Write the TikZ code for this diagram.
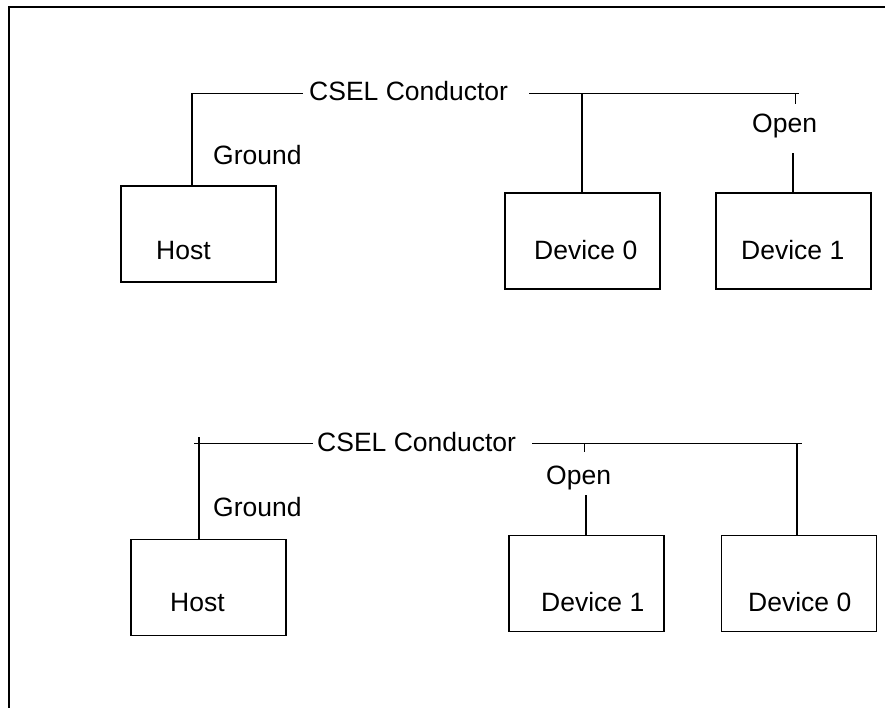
\documentclass[tikz,border=0pt]{standalone}
\usepackage{fontspec}
\setmainfont{Liberation Sans}
\begin{document}
\begin{tikzpicture}[x=1pt,y=-1pt,
  wire/.style={line width=1.3pt, line cap=rect},
  box/.style={draw, line width=1.3pt, minimum width=155pt, minimum height=96pt, inner sep=0pt},
  txt/.style={anchor=base west, inner sep=0pt, font=\fontsize{26.5}{30}\selectfont}]
\useasboundingbox (0,0) rectangle (885,708);
% frame
\coordinate (fa) at (8.5,708);
\coordinate (fb) at (8.5,7.5);
\coordinate (fc) at (885,7.5);
\draw[line width=2pt] (fa) -- (fb) -- (fc);

% ---------- top diagram ----------
\node[box] (hostA) at (198.5,234) {};
\node[box] (devA0) at (582.5,241) {};
\node[box] (devA1) at (793.5,241) {};
\node[txt] (hostAt) at (156,260) {Host};
\node[txt] (devA0t) at (534,259.5) {Device 0};
\node[txt] (devA1t) at (741,259.5) {Device 1};
\node[txt] (condA) at (309,100.5) {CSEL Conductor};
\node[txt] (gndA) at (213,164.3) {Ground};
\node[txt] (openA) at (752,132.7) {Open};
\coordinate (a1) at (192,93.5);
\coordinate (a2) at (302,93.5);
\coordinate (a3) at (530,93.5);
\coordinate (a4) at (582,93.5);
\coordinate (a5) at (798,93.5);
\coordinate (a6) at (795,104);
\coordinate (a7) at (793,154);
\draw[wire] (a1 |- hostA.north) -- (a1) -- (a2);
\draw[wire] (a3) -- (a5);
\draw[wire] (a4) -- (a4 |- devA0.north);
\draw[line width=1pt] (a6 |- a5) -- (a6);
\draw[wire] (a7) -- (a7 |- devA1.north);

% ---------- bottom diagram ----------
\node[box] (hostB) at (208.5,587.5) {};
\node[box] (devB1) at (586.5,583.5) {};
\node[box] (devB0) at (799,583.5) {};
\node[txt] (hostBt) at (170,611.7) {Host};
\node[txt] (devB1t) at (541,611.8) {Device 1};
\node[txt] (devB0t) at (748,611.8) {Device 0};
\node[txt] (condB) at (317,451.7) {CSEL Conductor};
\node[txt] (gndB) at (213,516.7) {Ground};
\node[txt] (openB) at (546,484) {Open};
\coordinate (b0) at (195,443.5);
\coordinate (b1) at (199,437.5);
\coordinate (b2) at (312,443.5);
\coordinate (b3) at (533,443.5);
\coordinate (b4) at (584,452);
\coordinate (b5) at (801,443.5);
\coordinate (b6) at (586,496);
\coordinate (b7) at (797,443.5);
\draw[wire] (b0) -- (b2);
\draw[wire] (b1) -- (b1 |- hostB.north);
\draw[wire] (b3) -- (b5);
\draw[line width=1pt] (b4 |- b3) -- (b4);
\draw[wire] (b6) -- (b6 |- devB1.north);
\draw[wire] (b7) -- (b7 |- devB0.north);
\end{tikzpicture}
\end{document}
